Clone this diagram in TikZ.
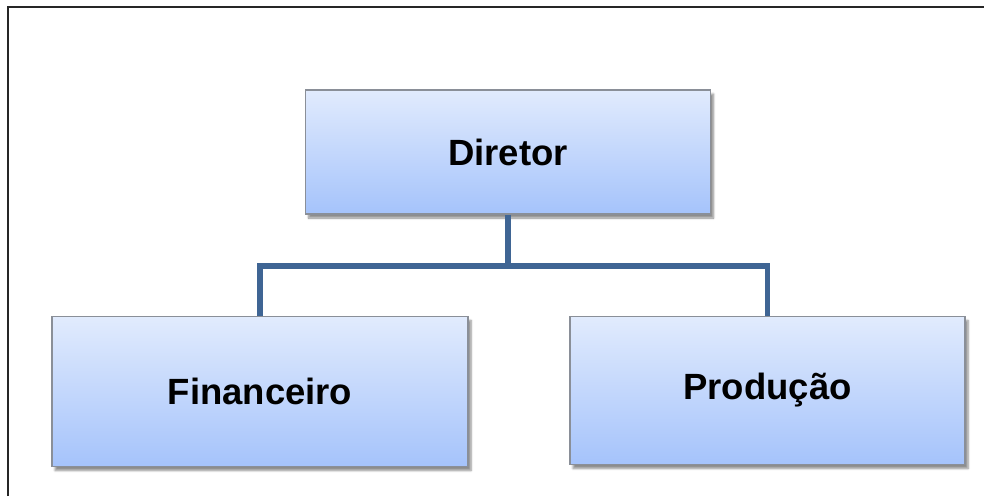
\documentclass[tikz,border=0pt]{standalone}
\usepackage{fontspec}
\setmainfont{Liberation Sans}
\usetikzlibrary{shadows.blur}
\definecolor{boxtop}{HTML}{E1EBFD}
\definecolor{boxbot}{HTML}{A5C3FB}
\definecolor{boxedge}{HTML}{8A8F98}
\definecolor{linkblue}{HTML}{3F6594}
\tikzset{
  orgbox/.style={draw=boxedge, line width=1.2pt, top color=boxtop, bottom color=boxbot,
    blur shadow={shadow xshift=3pt, shadow yshift=-4pt, shadow blur steps=6, shadow opacity=45},
    font=\bfseries\fontsize{36.5}{42}\selectfont, text=black, inner sep=0pt},
  link/.style={draw=linkblue, line width=5.5pt}
}
\begin{document}
\begin{tikzpicture}[x=1pt,y=-1pt]
  \useasboundingbox (0,0) rectangle (984,496);
  % open frame: only the top and left sides are visible
  \draw[line width=1.6pt, black!85] (8,496) -- (8,7) -- (984,7);
  % boxes
  \node[orgbox, minimum width=405pt, minimum height=124pt] (dir) at (508,152) {Diretor};
  \node[orgbox, minimum width=416pt, minimum height=150pt] (fin) at (260,391.5) {Financeiro};
  \node[orgbox, minimum width=395pt, minimum height=148pt] (prod) at (767.5,390.5) {Produção};
  % connectors
  \coordinate (bus) at (508,266);
  \draw[link] (dir.south) -- (bus);
  \draw[link] (fin.north) |- (bus) -| (prod.north);
\end{tikzpicture}
\end{document}
